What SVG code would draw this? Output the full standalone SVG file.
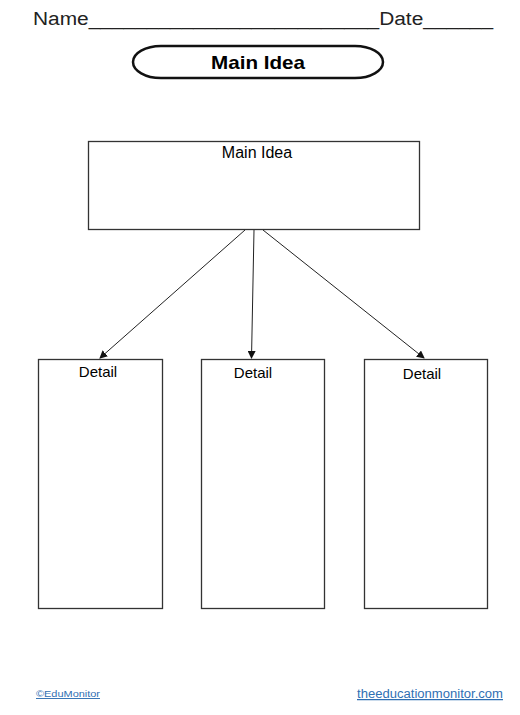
<svg xmlns="http://www.w3.org/2000/svg" width="520" height="715" viewBox="0 0 520 715">
<style>
.box{fill:#fff;stroke:#333;stroke-width:1.3}
.lbl{font-family:"Liberation Sans",Arial,sans-serif;fill:#000;text-anchor:middle}
.conn{stroke:#222;stroke-width:1;fill:none}
</style>
<defs>
<marker id="ah" markerWidth="8" markerHeight="8" refX="7" refY="4" orient="auto" markerUnits="userSpaceOnUse">
<path d="M0,0 L8,4 L0,8 Z" fill="#111"/>
</marker>
</defs>
<rect width="520" height="715" fill="#fff"/>
<g id="header">
<text x="33" y="25" font-family="'Liberation Sans',Arial,sans-serif" font-size="18" fill="#222" textLength="460" lengthAdjust="spacingAndGlyphs">Name_________________________Date______</text>
</g>
<g id="title">
<rect x="133" y="46" width="250" height="32" rx="28" ry="16" fill="#fff" stroke="#111" stroke-width="2.5"/>
<text class="lbl" x="258" y="69" font-size="19" font-weight="bold" textLength="94" lengthAdjust="spacingAndGlyphs">Main Idea</text>
</g>
<g id="main">
<rect class="box" x="88.5" y="141.5" width="331" height="88"/>
<text class="lbl" x="257" y="158" font-size="16">Main Idea</text>
</g>
<g id="connectors">
<line class="conn" x1="245" y1="230" x2="100" y2="358" marker-end="url(#ah)"/>
<line class="conn" x1="254" y1="230" x2="251.5" y2="358" marker-end="url(#ah)"/>
<line class="conn" x1="263" y1="230" x2="424" y2="358" marker-end="url(#ah)"/>
</g>
<g id="detail1">
<rect class="box" x="38.5" y="359.5" width="124" height="249"/>
<text class="lbl" x="98" y="377" font-size="15">Detail</text>
</g>
<g id="detail2">
<rect class="box" x="201.5" y="359.5" width="123" height="249"/>
<text class="lbl" x="253" y="378" font-size="15">Detail</text>
</g>
<g id="detail3">
<rect class="box" x="364.5" y="359.5" width="123" height="249"/>
<text class="lbl" x="422" y="379" font-size="15">Detail</text>
</g>
<g id="footer">
<text x="36" y="697" font-family="'Liberation Sans',Arial,sans-serif" font-size="9.5" fill="#2f6fb3" text-decoration="underline" textLength="64" lengthAdjust="spacingAndGlyphs">©EduMonitor</text>
<text x="357" y="698" font-family="'Liberation Sans',Arial,sans-serif" font-size="12.5" fill="#2f6fb3" text-decoration="underline" textLength="146" lengthAdjust="spacingAndGlyphs">theeducationmonitor.com</text>
</g>
</svg>
